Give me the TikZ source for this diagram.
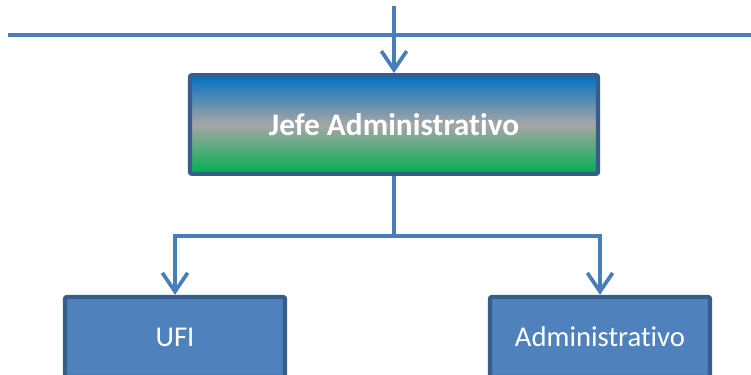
\documentclass[tikz,border=0pt]{standalone}
\usepackage{fontspec}
\setmainfont{Carlito}[Ligatures=NoCommon]
\usetikzlibrary{arrows.meta,positioning}
\definecolor{orgblue}{HTML}{4F81BD}
\definecolor{orgborde}{HTML}{385D8A}
\definecolor{orgline}{HTML}{4A7EBB}
\definecolor{gradtop}{HTML}{0070C0}
\definecolor{gradmid}{HTML}{A6A6A6}
\definecolor{gradbot}{HTML}{00B050}

\begin{document}
\begin{tikzpicture}[x=0.75pt,y=-0.75pt,
  jefe/.style={rectangle,rounded corners=1.5pt,draw=orgborde,line width=3.2pt,
               minimum width=306pt,minimum height=74pt,
               top color=gradtop,bottom color=gradbot,middle color=gradmid,
               text=white,font=\fontsize{23.5}{28}\selectfont\bfseries},
  unidad/.style={rectangle,rounded corners=1.5pt,draw=orgborde,line width=3.2pt,
                 fill=orgblue,minimum width=165pt,minimum height=60pt,
                 text=white,font=\fontsize{21.5}{26}\selectfont},
  conector/.style={draw=orgline,line width=2.8pt},
  flecha/.style={conector,-{Straight Barb[length=14pt,width=19pt]}}
]
  \path[use as bounding box] (0,0) rectangle (751,375);
  \clip (0,0) rectangle (751,375);

  % ---- Top: incoming line ------------------------------------
  \coordinate (linea-izq) at (8,35);
  \coordinate (linea-der) at (751,35);
  \coordinate (entrada) at (394,6);
  \draw[conector] (linea-izq) -- (linea-der);

  % ---- Boxes ---------------------------------------------------
  \node[jefe] (jefe) at (394,124.5) {Jefe Administrativo};
  \node[unidad] (ufi) at (175,337) {UFI};
  \node[unidad] (admin) at (600,337) {Administrativo};

  % ---- Connectors ---------------------------------------------
  \draw[flecha] (entrada) -- (jefe.north);
  \coordinate (rama) at (394,236);
  \draw[conector] (jefe.south) -- (rama);
  \draw[flecha] (rama) -| (ufi.north);
  \draw[flecha] (rama) -| (admin.north);

\end{tikzpicture}
\end{document}
